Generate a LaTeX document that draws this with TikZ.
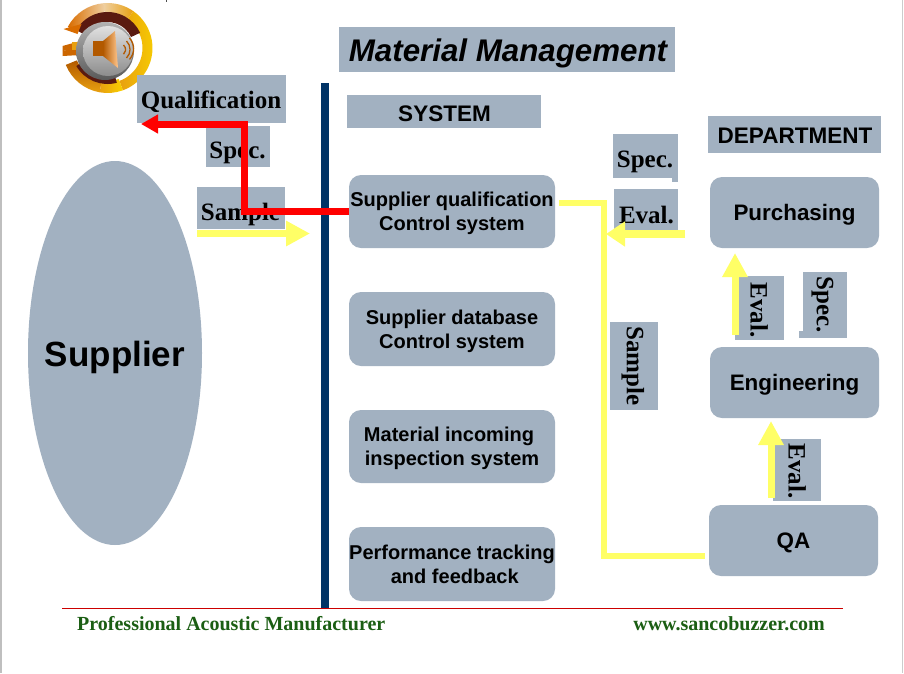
\documentclass[tikz,border=0pt]{standalone}
\usepackage{fontspec}
\setmainfont{Liberation Serif}
\setsansfont{Liberation Sans}
\usetikzlibrary{arrows.meta,shapes.geometric}
\definecolor{slate}{HTML}{A2B1C1}
\definecolor{navybar}{HTML}{003366}
\definecolor{flowyellow}{HTML}{FFFF66}
\definecolor{footgreen}{HTML}{1B5E13}
\definecolor{ruleRed}{HTML}{CC0000}
\definecolor{maroon}{HTML}{5A1A10}
\definecolor{amber}{HTML}{E8A010}
\definecolor{sun}{HTML}{F8D000}
\definecolor{cream}{HTML}{EFCFA0}
% annular sector: centre-relative, angles a to b, radii R and r
\newcommand\ringpiece[5][]{\path[#1] (#2:#4) arc[start angle=#2,end angle=#3,radius=#4] -- (#3:#5) arc[start angle=#3,end angle=#2,radius=#5] -- cycle;}
\tikzset{
  panel/.style={fill=slate,inner sep=0pt,outer sep=0pt,anchor=north west},
  roundbox/.style={fill=slate,rounded corners=12pt,inner sep=0pt,outer sep=0pt,align=center,text depth=0pt,font=\sffamily\bfseries\fontsize{20}{24}\selectfont},
  deptbox/.style={roundbox,font=\sffamily\bfseries\fontsize{22.4}{26}\selectfont},
  serifword/.style={inner sep=0pt,font=\rmfamily\bfseries\fontsize{25}{28}\selectfont},
  sansword/.style={inner sep=0pt,font=\sffamily\bfseries\fontsize{22.5}{26}\selectfont},
  footword/.style={inner sep=0pt,text=footgreen,font=\rmfamily\bfseries\fontsize{20}{22}\selectfont},
  redflow/.style={draw=red,line width=7pt,-{Triangle[length=17pt,width=18pt]}},
  yellowflow/.style={draw=flowyellow,line width=7pt,-{Triangle[length=24pt,width=24pt]}},
  yellowshort/.style={draw=flowyellow,line width=7.5pt,-{Triangle[length=19pt,width=24pt]}},
  yellowline/.style={draw=flowyellow,line width=6pt}
}
\newcommand\boxat[5]{\node[panel,minimum width=#4 pt,minimum height=#5 pt] (#1) at (#2,#3) {};}
\begin{document}
\begin{tikzpicture}[x=1pt,y=-1pt]
\useasboundingbox (0,0) rectangle (904,673);
\fill[white] (0,0) rectangle (904,673);
\draw[gray!50,line width=1.2pt] (1,0) -- (1,673);
\draw[gray!40,line width=1pt] (902.5,0) -- (902.5,673);
\fill[black!70] (165.5,0) rectangle (166.5,2);

% speaker emblem
\begin{scope}[shift={(107.5,48)},x=1pt,y=1pt]
  \ringpiece[left color=orange!85!black,right color=cream]{152}{95}{45}{35}
  \ringpiece[left color=cream,right color=amber]{95}{55}{45}{35}
  \ringpiece[left color=amber,right color=sun]{55}{-70}{45}{35}
  \ringpiece[left color=amber,right color=sun]{-70}{-100}{45}{33}
  \ringpiece[top color=orange!70!black,bottom color=amber]{-100}{-158}{45}{33}
  \ringpiece[fill=maroon]{150}{25}{36}{26}
  \ringpiece[fill=maroon]{-75}{-150}{36}{26}
  \fill[orange!85!black] (-44,19) -- (-26,24) -- (-30,14) -- cycle;
  \fill[orange!80!black] (-45,-3) -- (-27,1) -- (-27,-7) -- (-45,-8) -- cycle;
  \fill[orange!80!black] (-45,-3) -- (-45,2) -- (-27,7) -- (-27,0) -- cycle;
  \fill[amber] (-36,6) rectangle (-26,-2);
  \shade[top color=black!30,bottom color=black!65] (-2.5,-3) circle[radius=29];
  \shade[top color=black!12,bottom color=black!45] (0.5,-3) circle[radius=25];
  \fill[orange!70!black] (-14.5,7) rectangle (-4.5,-8);
  \shade[left color=orange!70!black,right color=orange!45!white] (-4.5,7) -- (7.5,17) -- (10.5,-20) -- (-4.5,-8) -- cycle;
  \draw[orange!70!black,line width=1.3pt] (16,3) arc[start angle=50,end angle=-50,radius=6];
  \draw[orange!70!black,line width=1.3pt] (19,7) arc[start angle=45,end angle=-45,radius=12];
  \draw[orange!70!black,line width=1.3pt] (22,10) arc[start angle=42,end angle=-42,radius=16];
\end{scope}

% supplier side
\node[ellipse,fill=slate,inner sep=0pt,minimum width=174pt,minimum height=384pt] (supplier) at (115,353) {};
\node[inner sep=0pt,font=\sffamily\bfseries\fontsize{35}{40}\selectfont] (suppliertext) at (115,357) {Supplier};

% vertical divider and footer rule
\fill[navybar] (321,83) rectangle (329,608);
\draw[ruleRed,line width=1pt] (62,608.5) -- (843,608.5);

% heading panels
\boxat{titlebox}{339}{27}{336}{45}
\node[inner sep=0pt,font=\sffamily\bfseries\itshape\fontsize{31.3}{34}\selectfont] (titletext) at (508,53) {Material Management};
\boxat{systembox}{347}{95}{194}{33}
\node[sansword] (systemtext) at (444.5,114) {SYSTEM};
\boxat{deptbox}{708}{116}{173}{37}
\node[sansword] (depttext) at (795,136) {DEPARTMENT};

% left flow labels
\boxat{qualbox}{137}{75}{149}{48}
\node[serifword] (qualtext) at (211,102) {Qualification};
\boxat{specleft}{206}{126}{64}{41}
\node[serifword] (speclefttext) at (237.5,153) {Spec.};
\boxat{sampleleft}{197}{187}{88}{42}
\node[serifword] (samplelefttext) at (240.5,214) {Sample};

% right flow labels
\boxat{specright}{613}{134}{65}{44}
\fill[slate] (672,178) rectangle (678,182);
\node[serifword] (specrighttext) at (645,162) {Spec.};
\boxat{evalright}{614}{189}{64}{42}
\node[serifword] (evalrighttext) at (646.5,215) {Eval.};
\boxat{samplerot}{610}{322}{48}{88}
\node[serifword,rotate=-90] (samplerottext) at (633,366) {Sample};
\boxat{evalupper}{735}{276}{49}{64}
\node[serifword,rotate=-90] (evaluppertext) at (759,310) {Eval.};
\boxat{specrot}{803}{272}{44}{66}
\fill[slate] (799,331) rectangle (803,338);
\node[serifword,rotate=-90] (specrottext) at (822.5,305) {Spec.};
\boxat{evallower}{773}{439}{48}{62}
\node[serifword,rotate=-90] (evallowertext) at (797,471) {Eval.};

% system boxes
\node[roundbox,minimum width=206pt,minimum height=73pt] (sysqual) at (452,211.5) {Supplier qualification\\Control system};
\node[roundbox,minimum width=206pt,minimum height=74pt] (sysdata) at (452,329) {Supplier database\\Control system};
\node[roundbox,minimum width=206pt,minimum height=73pt] (sysincoming) at (452,446.5) {Material incoming\hspace*{6pt}\\inspection system};
\node[roundbox,minimum width=206pt,minimum height=74pt] (sysperf) at (452,564) {Performance tracking\\\ and feedback};

% department boxes
\node[deptbox,minimum width=169pt,minimum height=71pt] (purch) at (794.5,212.5) {Purchasing};
\node[deptbox,minimum width=169pt,minimum height=71pt] (engin) at (794.5,382.5) {Engineering};
\node[deptbox,minimum width=169pt,minimum height=71pt] (qa) at (793.5,540.5) {QA};

% connector ends
\coordinate (qualtip) at (141,124);
\coordinate (redknee) at (244,211);
\coordinate (redtop) at (244,124);
\coordinate (sampletail) at (197,233.5);
\coordinate (sampletip) at (310,233.5);
\coordinate (evalrtail) at (685,234);
\coordinate (evalrtip) at (606,234);
\coordinate (yelstart) at (559,203);
\coordinate (yelupper) at (604,203);
\coordinate (yellower) at (604,556);
\coordinate (yelend) at (705,556);
\coordinate (upatail) at (735,335);
\coordinate (upatip) at (735,253);
\coordinate (upbtail) at (771,498);
\coordinate (upbtip) at (771,421);

% flows
\draw[yellowflow] (sampletail) -- (sampletip);
\draw[redflow] (sysqual.west |- redknee) -- (redknee) -- (redtop) -- (qualtip);
\draw[yellowline] (yelstart) -- (yelupper) -- (yellower) -- (yelend);
\draw[yellowshort] (evalrtail) -- (evalrtip);
\draw[yellowflow] (upatail) -- (upatip);
\draw[yellowflow] (upbtail) -- (upbtip);

% footer
\node[footword,anchor=west] (footleft) at (77,624) {Professional Acoustic Manufacturer};
\node[footword,anchor=east] (footright) at (825,624) {www.sancobuzzer.com};
\end{tikzpicture}
\end{document}
